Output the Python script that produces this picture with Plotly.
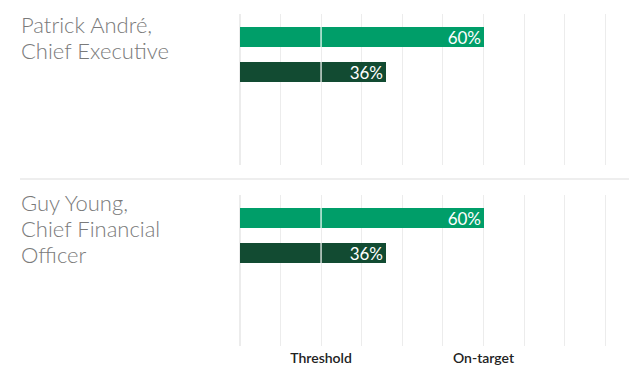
import plotly.graph_objects as go
from plotly.subplots import make_subplots

# data
names = [["Patrick André,", "Chief Executive"], ["Guy Young,", "Chief Financial", "Officer"]]
maximum_pct = [60, 60]
actual_pct = [36, 36]
marker_vals = [20, 60]
marker_text = ["Threshold", "On-target"]

LIGHT = "#009E69"
DARK = "#124B32"
GRID = "#ECECEC"
bar_w = 0.57

# page body has an 8px margin, so the figure is shrunk and shifted
OFF = 8
W, H = 637 - OFF, 369 - OFF


def px_x(x):
    return (x - OFF) / W


def px_y(y):
    return (H - (y - OFF)) / H


fig = make_subplots(rows=2, cols=1)

for i in range(len(names)):
    row = i + 1
    vals = [maximum_pct[i], actual_pct[i]]
    fig.add_trace(go.Bar(
        x=vals, y=[0, 1], orientation="h",
        width=bar_w,
        marker=dict(color=[LIGHT, DARK], line=dict(width=0)),
        text=[f"{v}%" for v in vals],
        textposition="inside", insidetextanchor="end", constraintext="none",
        textfont=dict(family="Lato", size=17, color="white"),
        showlegend=False, hoverinfo="skip",
    ), row=row, col=1)

    # threshold line drawn white across the bars
    sfx = str(row) if row > 1 else ""
    for j in range(2):
        fig.add_shape(
            type="line", xref="x" + sfx, yref="y" + sfx,
            x0=marker_vals[0], x1=marker_vals[0],
            y0=j - bar_w / 2, y1=j + bar_w / 2,
            line=dict(color="white", width=1.2), layer="above",
        )

x_dom = [px_x(239), 1]
fig.update_layout(
    xaxis=dict(domain=x_dom),
    xaxis2=dict(domain=x_dom),
    yaxis=dict(domain=[px_y(165), px_y(14)]),
    yaxis2=dict(domain=[px_y(346), px_y(195)]),
)

fig.update_xaxes(
    range=[-0.2, (637 - 239) / 40.7 * 10], showgrid=True, gridcolor=GRID, gridwidth=1,
    tickvals=marker_vals, ticktext=marker_text, ticks="",
    minor=dict(dtick=10, tick0=0, showgrid=True, gridcolor=GRID, gridwidth=1),
    zeroline=True, zerolinecolor=GRID, zerolinewidth=1.5,
    showline=False, fixedrange=True,
    tickfont=dict(family="Lato", size=14, color="#222222", weight=600),
    ticklabelstandoff=2,
    automargin=False,
)
fig.update_xaxes(showticklabels=False, row=1, col=1)
fig.update_yaxes(
    range=[3.66, -0.66], showgrid=False, zeroline=False, showticklabels=False,
    showline=False, fixedrange=True,
)

# names, one annotation per line to match the tighter leading
name_tops = [9, 187]
for i, lines in enumerate(names):
    for k, line in enumerate(lines):
        fig.add_annotation(
            x=px_x(19), y=px_y(name_tops[i] + 26 * k), xref="paper", yref="paper",
            text=line, showarrow=False, xanchor="left", yanchor="top", align="left",
            font=dict(family="Lato", size=22, color="#7A7A7A", weight=300),
        )

# separator
fig.add_shape(type="line", xref="paper", yref="paper",
              x0=px_x(20), x1=1, y0=px_y(179), y1=px_y(179),
              line=dict(color="#E8E8E8", width=1.5))

fig.update_layout(
    width=W, height=H,
    margin=dict(l=0, r=0, t=0, b=0),
    plot_bgcolor="white", paper_bgcolor="white",
    bargap=0,
)

fig.write_html("out.html")
